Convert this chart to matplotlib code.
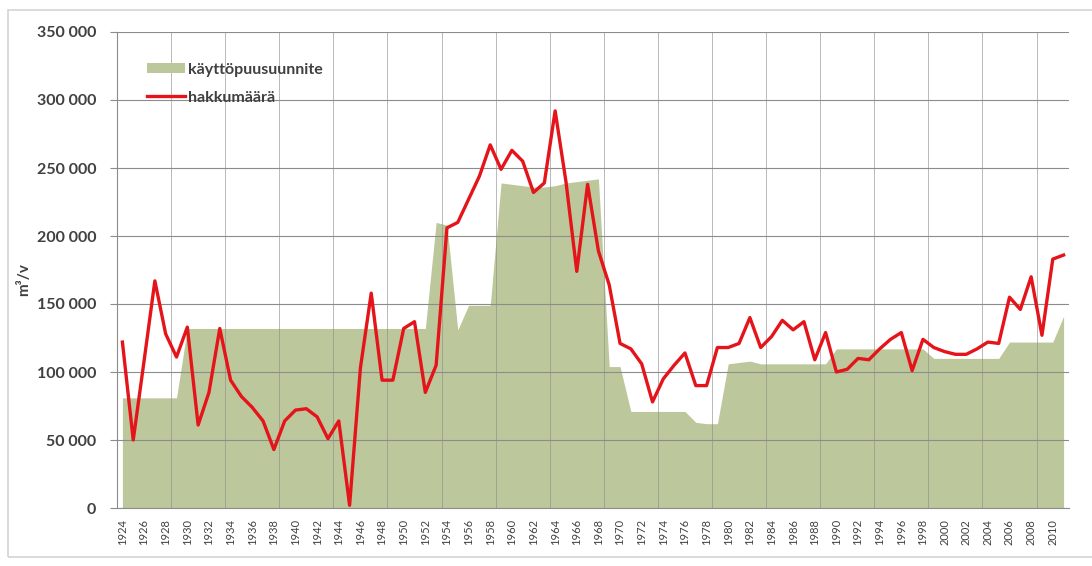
import matplotlib
matplotlib.use("Agg")
import matplotlib.pyplot as plt
from matplotlib.patches import Rectangle
from matplotlib.ticker import FuncFormatter, MultipleLocator, FixedLocator

# vuodet 1924-2011
years = list(range(1924, 2012))

# käyttöpuusuunnite (m3/v)
suunnite = [
    81000, 81000, 81000, 81000, 81000, 81000,                      # 1924-1929
    132000, 132000, 132000, 132000, 132000, 132000, 132000, 132000,  # 1930-1937
    132000, 132000, 132000, 132000, 132000, 132000, 132000, 132000,  # 1938-1945
    132000, 132000, 132000, 132000, 132000, 132000, 132000,          # 1946-1952
    210000, 208000, 131000, 149000, 149000, 149000,                  # 1953-1958
    239000, 238000, 237000, 236000, 236000, 237000, 239000, 240000,  # 1959-1966
    241000, 242000, 104000, 104000,                                  # 1967-1970
    71000, 71000, 71000, 71000, 71000, 71000, 63000, 62000, 62000,   # 1971-1979
    106000, 107000, 108000, 106000, 106000, 106000, 106000, 106000,  # 1980-1987
    106000, 106000,                                                  # 1988-1989
    117000, 117000, 117000, 117000, 117000, 117000, 117000, 117000,  # 1990-1997
    117000,                                                          # 1998
    110000, 110000, 110000, 110000, 110000, 110000, 110000,          # 1999-2005
    122000, 122000, 122000, 122000, 122000, 141000,                  # 2006-2011
]

# hakkumäärä (m3/v)
hakkuu = [
    122000, 50000, 108000, 167000, 128000, 111000, 133000, 61000,    # 1924-1931
    85000, 132000, 94000, 82000, 74000, 64000, 43000, 64000,         # 1932-1939
    72000, 73000, 67000, 51000, 64000, 2000, 103000, 158000,         # 1940-1947
    94000, 94000, 132000, 137000, 85000, 105000, 206000, 210000,     # 1948-1955
    227000, 244000, 267000, 249000, 263000, 255000, 232000, 239000,  # 1956-1963
    292000, 240000, 174000, 238000, 189000, 164000, 121000, 117000,  # 1964-1971
    106000, 78000, 95000, 105000, 114000, 90000, 90000, 118000,      # 1972-1979
    118000, 121000, 140000, 118000, 126000, 138000, 131000, 137000,  # 1980-1987
    109000, 129000, 100000, 102000, 110000, 109000, 117000, 124000,  # 1988-1995
    129000, 101000, 124000, 118000, 115000, 113000, 113000, 117000,  # 1996-2003
    122000, 121000, 155000, 146000, 170000, 127000, 183000, 186000,  # 2004-2011
]

label_years = years[::2]

GREEN = "#BCC89B"
RED = "#E5141B"
TXT = "#404040"
GRID = "#8C8C8C"

plt.rcParams["font.family"] = ["Lato", "DejaVu Sans"]

fig = plt.figure(figsize=(10.92, 5.66), dpi=100)
ax = fig.add_axes([117 / 1092, 58 / 566, 952 / 1092, 476 / 566])

ax.fill_between(years, suunnite, 0, color=GREEN, lw=0, label="käyttöpuusuunnite", zorder=1)
ax.plot(years, hakkuu, color=RED, lw=2.4, label="hakkumäärä", zorder=3)

ax.set_xlim(years[0] - 0.5, years[-1] + 0.5)
ax.set_ylim(0, 350000)

ax.yaxis.set_major_locator(MultipleLocator(50000))
ax.yaxis.set_major_formatter(FuncFormatter(lambda v, p: f"{int(v):,}".replace(",", " ")))
ax.tick_params(axis="y", length=5, width=0.8, color=GRID, pad=10,
               labelsize=11.5, labelcolor=TXT)
for t in ax.get_yticklabels():
    t.set_fontweight("bold")

ax.xaxis.set_major_locator(FixedLocator(label_years))
ax.set_xticklabels([str(y) for y in label_years], rotation=90)
ax.tick_params(axis="x", length=0, pad=8, labelsize=8, labelcolor=TXT)
ax.xaxis.set_minor_locator(FixedLocator([y + 0.5 for y in years[4:-1:5]]))
ax.tick_params(axis="x", which="minor", length=0)

ax.set_axisbelow("line")
ax.grid(axis="y", which="major", color=GRID, lw=0.8)
ax.grid(axis="x", which="minor", color=GRID, lw=0.6, alpha=0.7)

for s in ["top", "right"]:
    ax.spines[s].set_visible(False)
for s in ["left", "bottom"]:
    ax.spines[s].set_color(GRID)
    ax.spines[s].set_linewidth(0.8)

ax.set_ylabel("m³/v", fontsize=11, fontweight="bold", color=TXT)
ax.yaxis.set_label_coords(-0.090, 0.48)

leg = ax.legend(loc="upper left", bbox_to_anchor=(0.031, 0.935), frameon=False,
                borderpad=0, borderaxespad=0, handlelength=2.4, handleheight=0.55,
                handletextpad=0.2, labelspacing=0.85,
                prop={"size": 11.5, "weight": "bold"})
for t in leg.get_texts():
    t.set_color(TXT)

# kehys kaavion ympärillä
fig.patches.append(Rectangle((8 / 1092, 9 / 566), 1.2, 547 / 566, transform=fig.transFigure,
                             fill=False, ec="#D4D4D4", lw=1.2))

fig.savefig("out.png", dpi=100, facecolor="white")
